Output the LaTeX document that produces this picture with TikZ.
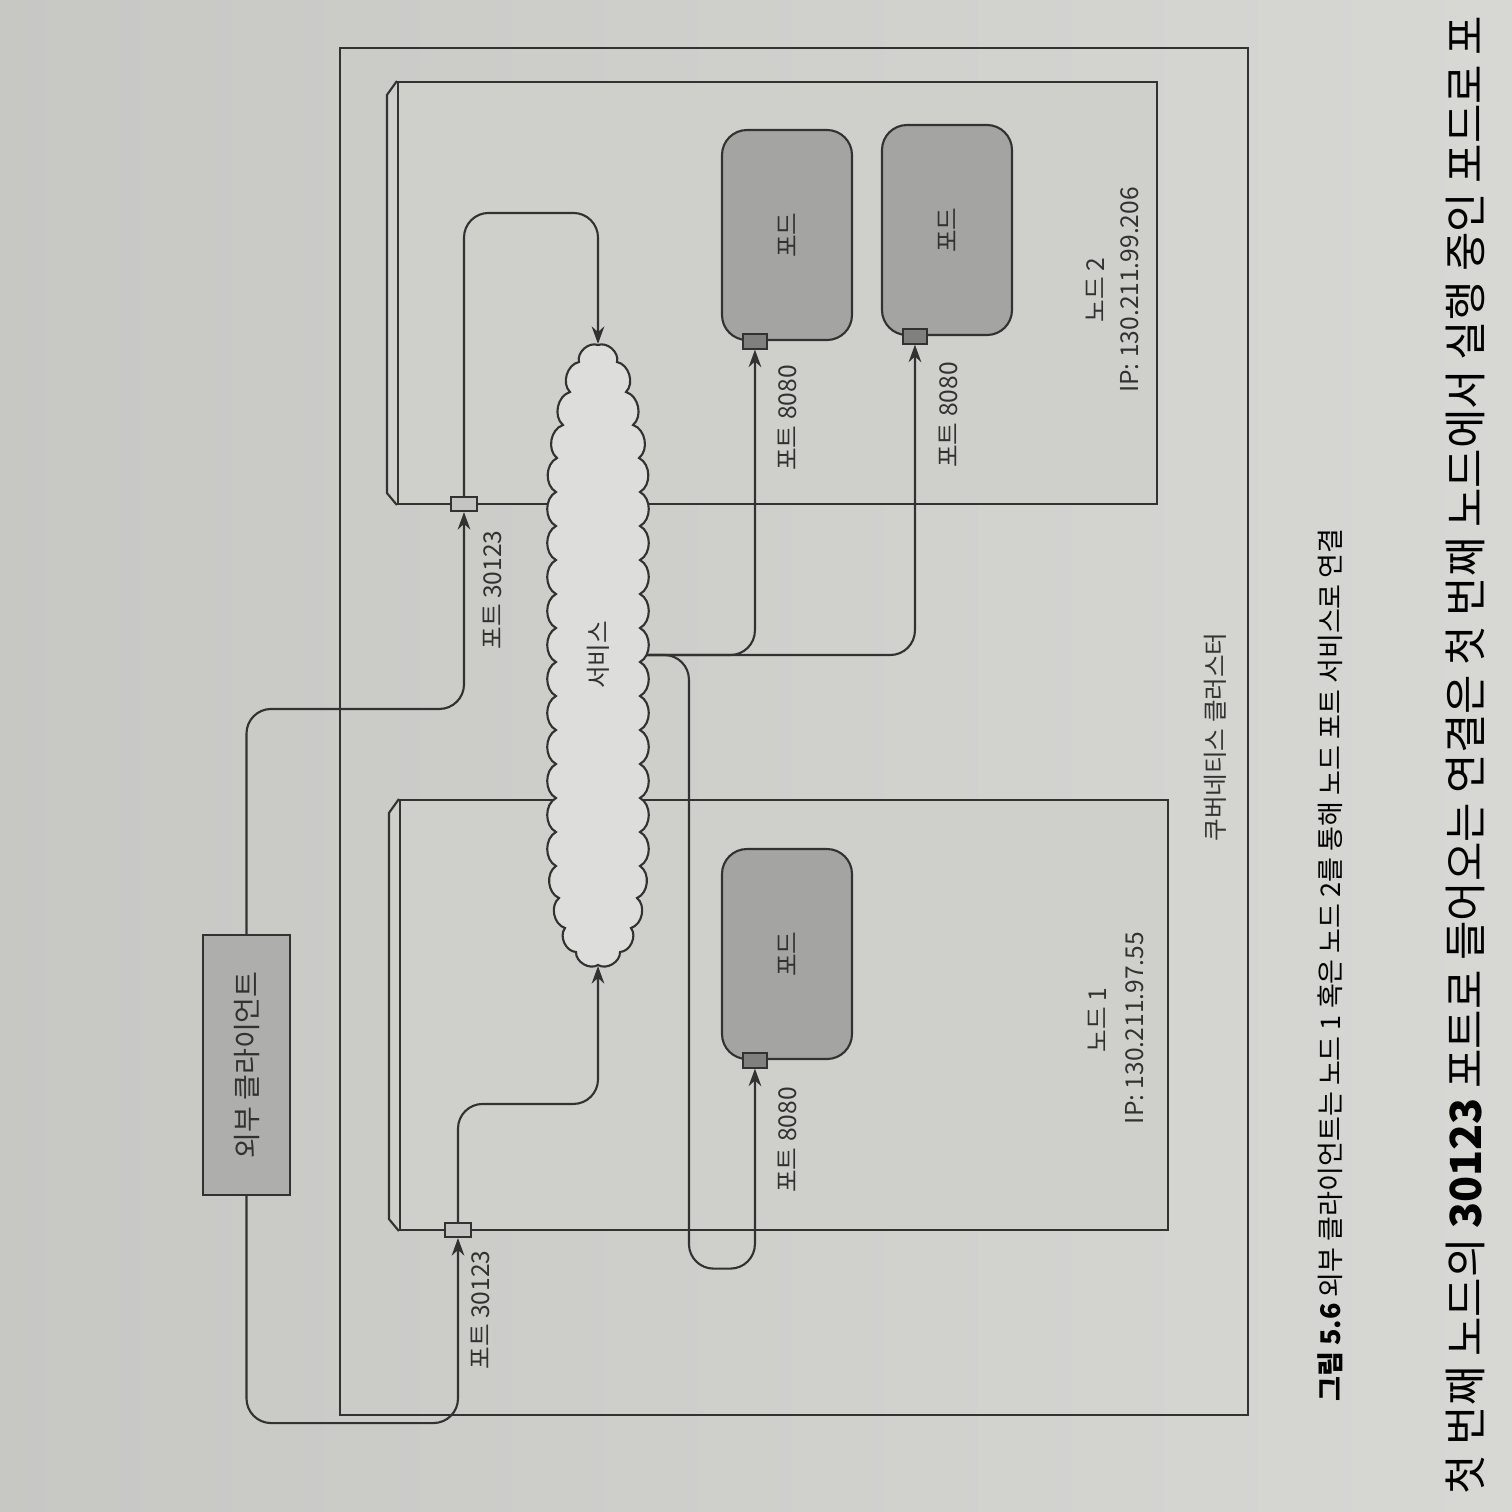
\documentclass[tikz,border=0pt]{standalone}
\usepackage{fontspec}
\setmainfont{Noto Sans CJK KR}
\usetikzlibrary{shapes,arrows.meta,positioning,calc}

\definecolor{paper}{RGB}{214,214,211}
\definecolor{inkc}{RGB}{50,50,50}
\definecolor{nodefill}{RGB}{207,207,204}
\definecolor{podfill}{RGB}{164,164,162}
\definecolor{clientfill}{RGB}{174,174,172}
\definecolor{portfill}{RGB}{196,196,194}
\definecolor{podport}{RGB}{128,128,126}
\definecolor{cloudfill}{RGB}{221,221,219}

\begin{document}
\begin{tikzpicture}[
  line width=0.6pt,
  lbl/.style={rotate=90, text=inkc, font=\fontsize{7}{8}\selectfont, inner sep=0pt},
  conn/.style={draw=inkc, rounded corners=7pt, -{Stealth[length=5pt,width=3.6pt]}},
  portbox/.style={draw=inkc, fill=portfill, minimum width=0.26cm, minimum height=0.14cm, inner sep=0pt},
  podbox/.style={draw=inkc, fill=podfill, rounded corners=0.25cm, minimum width=1.30cm, minimum height=2.10cm, inner sep=0pt},
  podportbox/.style={draw=inkc, fill=podport, minimum width=0.24cm, minimum height=0.15cm, inner sep=0pt}
]

% Page
\shade[left color=paper!93!black, right color=paper!97!white] (0,0) rectangle (15.12,-15.12);
\useasboundingbox (0,0) rectangle (15.12,-15.12);

% Cluster
\node[draw=inkc, minimum width=9.08cm, minimum height=13.67cm, inner sep=0pt] (cluster) at (7.94,-7.315) {};

% Node 2
\node[draw=inkc, fill=nodefill, minimum width=7.59cm, minimum height=4.22cm, inner sep=0pt] (node2) at (7.775,-2.93) {};
\draw[inkc, fill=nodefill] (node2.north west) -- ++(-0.1,-0.14) -- ($(node2.south west)+(-0.1,0.12)$) -- (node2.south west);

% Node 1
\node[draw=inkc, fill=nodefill, minimum width=7.68cm, minimum height=4.30cm, inner sep=0pt] (node1) at (7.84,-10.15) {};
\draw[inkc, fill=nodefill] (node1.north west) -- ++(-0.1,-0.14) -- ($(node1.south west)+(-0.1,0.12)$) -- (node1.south west);

% External client
\node[draw=inkc, fill=clientfill, minimum width=0.87cm, minimum height=2.60cm, inner sep=0pt] (client) at (2.465,-10.65) {};
\node[lbl, font=\fontsize{8}{9}\selectfont] (clientl) at (client.center) {외부 클라이언트};

% Ports on the nodes
\node[portbox] (p2) at (4.64,-5.04) {};
\node[portbox] (p1) at (4.58,-12.30) {};

% Service (anchor box)
\node[minimum width=0.84cm, minimum height=6.2cm, inner sep=0pt] (svc) at (5.98,-6.55) {};

% Pods
\node[podbox] (podA) at (7.87,-2.35) {};
\node[podbox] (podB) at (9.47,-2.30) {};
\node[podbox] (podC) at (7.87,-9.54) {};
\node[lbl] (podAl) at (podA.center) {포드};
\node[lbl] (podBl) at (podB.center) {포드};
\node[lbl] (podCl) at (podC.center) {포드};
\node[podportbox] (pa) at ($(podA.south west)+(0.34,0)$) {};
\node[podportbox] (pb) at ($(podB.south west)+(0.34,0)$) {};
\node[podportbox] (pc) at ($(podC.south west)+(0.34,0)$) {};

% Connections
\draw[conn] (client.north) -- ++(0,2.25) -| (p2.south);
\draw[conn] (client.south) -- ++(0,-2.27) -| (p1.south);
\draw[conn] (p2.north) -- ++(0,2.83) -| (svc.north);
\draw[conn] (p1.north) -- ++(0,1.18) -| (svc.south);
\draw[conn] (svc.east) -| (pa.south);
\draw[conn] (svc.east) -| (pb.south);
\draw[conn] (svc.east) -| ($(pc.south)+(-0.66,-2.0)$) -| (pc.south);

% Service cloud outline
\begin{scope}[shift={(svc.center)}]
\draw[inkc, fill=cloudfill] (0,3.10)
  \foreach \x/\y in {0.19/2.93, 0.28/2.63, 0.35/2.30, 0.41/1.97, 0.42/1.63, 0.42/1.29, 0.42/0.95,
    0.42/0.61, 0.42/0.27, 0.42/-0.07, 0.42/-0.41, 0.42/-0.75, 0.42/-1.09, 0.42/-1.43, 0.42/-1.77,
    0.42/-2.11, 0.39/-2.43, 0.33/-2.73, 0.22/-2.97, 0/-3.10, -0.22/-2.97, -0.33/-2.73, -0.39/-2.43,
    -0.42/-2.11, -0.42/-1.77, -0.42/-1.43, -0.42/-1.09, -0.42/-0.75, -0.42/-0.41, -0.42/-0.07,
    -0.42/0.27, -0.42/0.61, -0.42/0.95, -0.42/1.29, -0.42/1.63, -0.41/1.97, -0.35/2.30, -0.28/2.63,
    -0.19/2.93, 0/3.10} { to[bend left=62] (\x,\y) };
\end{scope}
\node[lbl] (svcl) at (svc.center) {서비스};

% Labels
\node[lbl] (np2) at (4.92,-5.90) {포트 30123};
\node[lbl] (np1) at (4.80,-13.10) {포트 30123};
\node[lbl] (ppA) at (7.87,-4.18) {포트 8080};
\node[lbl] (ppB) at (9.48,-4.15) {포트 8080};
\node[lbl] (ppC) at (7.87,-11.40) {포트 8080};
\node[lbl] (n2name) at (10.95,-2.90) {노드 2};
\node[lbl] (n2ip) at (11.30,-2.90) {IP: 130.211.99.206};
\node[lbl] (n1name) at (10.97,-10.20) {노드 1};
\node[lbl] (n1ip) at (11.35,-10.28) {IP: 130.211.97.55};
\node[lbl] (clusterl) at (12.15,-7.37) {쿠버네티스 클러스터};

% Caption and body text
\node[rotate=90, font=\fontsize{7.7}{9}\selectfont, inner sep=0pt] (caption) at (13.30,-9.65)
  {\textbf{그림 5.6} 외부 클라이언트는 노드 1 혹은 노드 2를 통해 노드 포트 서비스로 연결};
\node[rotate=90, font=\fontsize{12.2}{14}\selectfont, inner sep=0pt] (body) at (14.65,-7.55)
  {첫 번째 노드의 \textbf{30123} 포트로 들어오는 연결은 첫 번째 노드에서 실행 중인 포드로 포};

\end{tikzpicture}
\end{document}
